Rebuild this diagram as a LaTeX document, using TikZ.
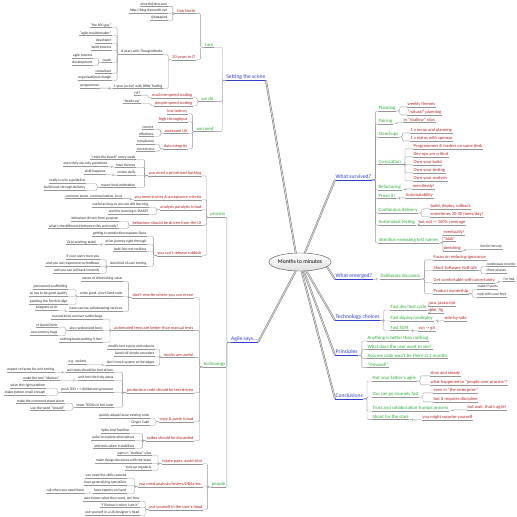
\documentclass[tikz,border=0pt]{standalone}
\usepackage{fontspec}
\setmainfont{Carlito}
\usetikzlibrary{shapes.geometric}
\definecolor{mmblue}{RGB}{45,65,200}
\definecolor{mmgreen}{RGB}{40,170,50}
\definecolor{mmred}{RGB}{175,35,35}
\definecolor{mmleaf}{RGB}{40,40,40}
\definecolor{mmline}{RGB}{150,150,150}
\tikzset{
  ul/.style={append after command={(\tikzlastnode.south west) edge[draw=#1, line width=0.35pt] (\tikzlastnode.south east)}},
  ul/.default=mmline,
  L/.style={anchor=east, inner xsep=0.5pt, inner ysep=0.7pt, ul},
  R/.style={anchor=west, inner xsep=0.5pt, inner ysep=0.7pt, ul},
  topic/.style={font=\fontsize{5.6}{6}\selectfont, text=mmblue, ul=mmblue},
  grn/.style={font=\fontsize{4.8}{5}\selectfont, text=mmgreen},
  rd/.style={font=\fontsize{4.3}{5}\selectfont, text=mmred},
  rdr/.style={font=\fontsize{4.5}{5}\selectfont, text=mmred},
  lf/.style={font=\fontsize{3.7}{4}\selectfont, text=mmleaf},
  lkL/.style={draw=mmline, line width=0.35pt, rounded corners=1.2pt, to path={-- ++(-3.5,0) |- (\tikztotarget)}},
  lkR/.style={draw=mmline, line width=0.35pt, rounded corners=1.2pt, to path={-- ++(3.5,0) |- (\tikztotarget)}},
  trunk/.style={draw=gray!70!black, line width=0.3pt, double=gray!35, double distance=1.1pt}
}
\begin{document}
\begin{tikzpicture}[x=1pt,y=-1pt]
\useasboundingbox (0,0) rectangle (517,517);

% centre
\node[ellipse, draw=gray!60!black, top color=white, bottom color=gray!25, minimum width=58pt, minimum height=18pt, inner sep=0pt, font=\fontsize{5.7}{6}\selectfont] (mm) at (300,262) {Months to minutes};

% Setting the scene
\node[L, topic] (sts) at (266,77) {Setting the scene};
\node[L, grn] (iam) at (214,45) {I am};
\node[L, grn] (wedo) at (214,99) {we do};
\node[L, grn] (wneed) at (214,129) {we need};
\node[L, rd] (dan) at (196,11) {Dan North};
\node[L, lf] (email) at (168,4) {dnorth@drw.com};
\node[L, lf] (blog) at (168,11) {http://blog.dannorth.net};
\node[L, lf] (twt) at (168,18) {@tastapod};
\node[L, rd] (yrs) at (196,57) {20 years in IT};
\node[L, lf] (tw8) at (163,52) {8 years with ThoughtWorks};
\node[L, lf] (g800) at (112,25) {``the 800 guy''};
\node[L, lf] (gtm) at (112,33) {``agile troublemaker''};
\node[L, lf] (gdev) at (112,41) {developer};
\node[L, lf] (gbld) at (112,48) {build process};
\node[L, lf] (gcch) at (112,60) {coach};
\node[L, lf] (cap) at (93,56) {agile process};
\node[L, lf] (cdv) at (93,63) {development};
\node[L, lf] (gcns) at (112,71) {consultant};
\node[L, lf] (gorg) at (112,78) {organisational change};
\node[L, lf] (drw) at (163,86) {1 year (so far) with DRW Trading};
\node[L, lf] (gprg) at (100,86) {programmer};
\node[L, rd] (mst) at (193,95) {machine-speed trading};
\node[L, lf] (hft) at (141,93) {HFT};
\node[L, rd] (pst) at (193,103) {people-speed trading};
\node[L, lf] (hup) at (141,101) {``heads-up''};
\node[L, rd] (lat) at (188,111) {low latency};
\node[L, rd] (thr) at (188,119) {high throughput};
\node[L, rd] (ux) at (188,131) {awesome UX};
\node[L, lf] (cor) at (154,127) {correct};
\node[L, lf] (eff) at (154,134) {effortless};
\node[L, rd] (dint) at (188,146) {data integrity};
\node[L, lf] (cmp) at (155,142) {compliance};
\node[L, lf] (crr) at (155,149) {correctness};

% Agile says... / process
\node[L, topic] (ags) at (258,339) {Agile says...};
\node[L, grn] (proc) at (226,215) {process};
\node[L, rd] (blg) at (202,173) {you need a prioritised backlog};
\node[L, lf] (rst) at (136,157) {``reset the board'' every week};
\node[L, lf] (thm) at (136,165) {have themes};
\node[L, lf] (gdl) at (108,164) {even they are only guidelines};
\node[L, lf] (rvw) at (136,173) {review daily};
\node[L, lf] (sth) at (106,172) {stuff happens};
\node[L, lf] (mac) at (136,185) {macro-level estimation};
\node[L, lf] (rog) at (86,181) {really is only a guideline};
\node[L, lf] (btd) at (86,188) {build trust through delivery};
\node[L, rd] (sto) at (202,197) {you need stories \& acceptance criteria};
\node[L, lf] (cst) at (123,196) {common sense, communication, trust};
\node[L, rd] (ana) at (202,207) {analysis paralysis is bad};
\node[L, lf] (usf) at (149,205) {useful as long as you are still learning};
\node[L, lf] (sma) at (149,212) {and the learning is SMART};
\node[L, rd] (bhv) at (202,223) {behaviour should be driven from the UI};
\node[L, lf] (bdp) at (119,219) {behaviour driven from purpose};
\node[L, lf] (dif) at (119,226) {what's the difference between this and really?};
\node[L, rd] (rub) at (202,253) {you can't release rubbish};
\node[L, lf] (gtp) at (147,234) {getting to production exposes flaws};
\node[L, lf] (drj) at (147,242) {drive journey right through};
\node[L, lf] (wrk) at (97,242) {(it to working state)};
\node[L, lf] (bld) at (147,249) {bold, but not reckless};
\node[L, lf] (bku) at (147,264) {best kind of user testing};
\node[L, lf] (ifu) at (100,257) {if your users trust you};
\node[L, lf] (rsp) at (100,264) {and you are responsive to feedback};
\node[L, lf] (rlb) at (100,271) {and you can roll back instantly};

% technology
\node[L, grn] (tech) at (226,364) {technology};
\node[L, rd] (rwr) at (194,295) {don't rewrite where you can revise};
\node[L, lf] (wav) at (123,279) {waves of diminishing value};
\node[L, lf] (wgs) at (123,294) {write good, short-lived code};
\node[L, lf] (psc) at (68,287) {permanent scaffolding};
\node[L, lf] (sgq) at (68,294) {so has to be good quality};
\node[L, lf] (pfb) at (68,302) {painting the Forth bridge};
\node[L, lf] (nrw) at (123,309) {have narrow, collaborating services};
\node[L, lf] (iui) at (58,308) {integrate at UI};
\node[L, rd] (aut) at (194,328) {automated tests are better than manual tests};
\node[L, lf] (mtu) at (103,317) {manual tests uncover subtle bugs};
\node[L, lf] (rnd) at (103,328) {also randomized tests};
\node[L, lf] (qck) at (58,325) {cf QuickCheck};
\node[L, lf] (ccb) at (58,333) {concurrency bugs};
\node[L, lf] (nbl) at (103,340) {nothing beats putting it live!};
\node[L, rd] (mck) at (194,355) {mocks are useful};
\node[L, lf] (mti) at (155,347) {modify test inputs and outputs};
\node[L, lf] (hrr) at (155,354) {hand-roll simple recorders};
\node[L, lf] (dmk) at (155,363) {don't mock system at the edges};
\node[L, lf] (sck) at (87,362) {e.g. sockets};
\node[L, rd] (prd) at (194,390) {production code should be test-driven};
\node[L, lf] (uts) at (114,370) {unit tests should be test-driven};
\node[L, lf] (erf) at (55,370) {expect re-factor for unit testing};
\node[L, lf] (utr) at (114,378) {unit test the risky areas};
\node[L, lf] (mto) at (60,378) {make the test ``obvious''};
\node[L, lf] (tdd) at (114,390) {push TDD <-> deliberate ignorance};
\node[L, lf] (srp) at (46,386) {solve the right problem};
\node[L, lf] (mss) at (46,393) {make system small enough};
\node[L, lf] (tdo) at (114,405) {leave TODOs in the code};
\node[L, lf] (mcs) at (65,401) {make the comment stand alone};
\node[L, lf] (wsh) at (65,408) {use the word ``should''};
\node[L, rd] (cpy) at (194,419) {copy \& paste is bad};
\node[L, lf] (qar) at (150,416) {quickly adapt/reuse existing code};
\node[L, lf] (gin) at (150,423) {Ginger Cake};
\node[L, rd] (spk) at (194,438) {spikes should be discarded};
\node[L, lf] (sas) at (130,431) {Spike And Stabilise};
\node[L, lf] (sxa) at (135,438) {spike to explore alternatives};
\node[L, lf] (ats) at (135,446) {add tests when it stabilises};

% people
\node[L, grn] (ppl) at (226,484) {people};
\node[L, rd] (rot) at (203,461) {rotate pairs, avoid silos};
\node[L, lf] (pss) at (152,453) {pairs in ``shallow'' silos};
\node[L, lf] (mdd) at (152,461) {make design decisions with the team};
\node[L, lf] (syn) at (152,468) {sync up regularly};
\node[L, rd] (anl) at (203,484) {you need analysts/testers/DBAs/etc.};
\node[L, lf] (skl) at (127,476) {you need the skills covered};
\node[L, lf] (gsp) at (127,483) {have generalizing specialists};
\node[L, lf] (exp) at (127,491) {have experts on hand};
\node[L, lf] (cwn) at (85,491) {call when you need them};
\node[L, rd] (usr) at (203,507) {put yourself in the user's head};
\node[L, lf] (ukw) at (140,499) {user knows what they want, not how};
\node[L, lf] (ikn) at (140,505) {``I'll know it when I see it''};
\node[L, lf] (uxd) at (140,513) {put yourself in a UX designer's head};

% What survived?
\node[R, topic] (srv) at (335,177) {What survived?};
\node[R, grn] (pln) at (378,108) {Planning};
\node[R, rdr] (wth) at (407,104) {weekly themes};
\node[R, rdr] (ntp) at (407,112) {``natural'' planning};
\node[R, grn] (par) at (378,121) {Pairing};
\node[R, rdr] (shs) at (403,120) {in ``shallow'' silos};
\node[R, grn] (sup) at (378,134) {Stand-ups};
\node[R, rdr] (rcp) at (410,130) {1 x recap and planning};
\node[R, rdr] (sws) at (410,138) {1 x status with sponsor};
\node[R, grn] (col) at (378,162) {Co-location};
\node[R, rdr] (ptd) at (413,146) {Programmers \& traders on same desk};
\node[R, rdr] (dvo) at (413,154) {Dev-ops are critical};
\node[R, rdr] (oyb) at (413,162) {Own your build};
\node[R, rdr] (oyt) at (413,170) {Own your testing};
\node[R, rdr] (oya) at (413,178) {Own your analysis};
\node[R, grn] (ref) at (378,187) {Refactoring};
\node[R, rdr] (mer) at (412,186) {mercilessly!};
\node[R, grn] (prv) at (378,196) {Prove it!};
\node[R, rdr] (atm) at (405,195) {Automatability};
\node[R, grn] (cdl) at (378,210) {Continuous delivery};
\node[R, rdr] (bdr) at (430,206) {build, deploy, rollback};
\node[R, rdr] (stm) at (430,214) {sometimes 20-30 times/day!};
\node[R, grn] (atst) at (378,222) {Automated testing};
\node[R, rdr] (cov) at (418,222) {but not -> 100\% coverage};
\node[R, grn] (irt) at (378,240) {Intention-revealing test names};
\node[R, rdr] (evt) at (443,232) {eventually!};
\node[R, rdr] (bla) at (443,239) {``blah''};
\node[R, rdr] (skt) at (443,248) {sketching};
\node[R, lf] (kev) at (480,247) {Kevlin Henney};

% What emerged?
\node[R, topic] (emg) at (335,276) {What emerged?};
\node[R, grn] (dds) at (380,276) {Deliberate discovery};
\node[R, rdr] (fri) at (433,257) {Focus on reducing ignorance};
\node[R, rdr] (ssh) at (433,268) {Short Software Half-Life};
\node[R, lf] (crw) at (486,264) {continuous rewrite};
\node[R, lf] (thp) at (486,271) {three phases};
\node[R, rdr] (gcu) at (433,280) {Get comfortable with uncertainty};
\node[R, lf] (ilo) at (503,279) {I'm lost};
\node[R, rdr] (pow) at (433,291) {Product ownership};
\node[R, lf] (miy) at (477,287) {make it yours};
\node[R, lf] (lwf) at (477,295) {look with your feet};

% Technology choices
\node[R, topic] (tch) at (335,317) {Technology choices};
\node[R, grn] (fdt) at (390,307) {Fast dev/test cycle};
\node[R, rdr] (jjs) at (428,303) {java, javascript};
\node[R, rdr] (rkf) at (428,310) {rake, fig};
\node[R, grn] (fdu) at (390,318) {Fast deploy/undeploy};
\node[R, rdr] (sbs) at (444,318) {side-by-side};
\node[R, grn] (fsc) at (390,328) {Fast SCM};
\node[R, rdr] (svg) at (418,328) {svn -> git};

% Principles
\node[R, topic] (prn) at (335,352) {Principles};
\node[R, grn] (abn) at (367,338) {Anything is better than nothing};
\node[R, grn] (wdu) at (367,347) {What does the user want to see?};
\node[R, grn] (acw) at (367,356) {Assume code won't be there in 2 months};
\node[R, grn] (onw) at (367,365) {``Onward!''};

% Conclusions
\node[R, topic] (ccl) at (335,396) {Conclusions};
\node[R, grn] (nfa) at (372,378) {Not your father's agile};
\node[R, rdr] (ssd) at (430,373) {slow and steady};
\node[R, rdr] (wpp) at (430,382) {what happened to ``people over process''?};
\node[R, grn] (yif) at (372,394) {You can go insanely fast};
\node[R, rdr] (ete) at (433,390) {even in ``the enterprise''};
\node[R, rdr] (rdq) at (433,399) {but it requires discipline};
\node[R, grn] (tct) at (372,408) {Trust and collaboration trumps process};
\node[R, rdr] (bwt) at (467,407) {but wait, that's agile!};
\node[R, grn] (sfs) at (372,417) {Shoot for the stars};
\node[R, rdr] (yms) at (422,417) {you might surprise yourself};

% main branches
\draw[trunk] (mm.115) -- (sts.south east);
\draw[trunk] (mm.245) -- (ags.south east);
\draw[trunk] (mm.62) -- (srv.south west);
\draw[trunk] (mm.350) -- (emg.south west);
\draw[trunk] (mm.305) -- (tch.south west);
\draw[trunk] (mm.292) -- (prn.south west);
\draw[trunk] (mm.280) -- (ccl.south west);

% left connectors
\foreach \a/\b in {sts/iam, sts/wedo, sts/wneed, iam/dan, iam/yrs,
  dan/email, dan/blog, dan/twt, yrs/tw8, yrs/drw,
  tw8/g800, tw8/gtm, tw8/gdev, tw8/gbld, tw8/gcch, tw8/gcns, tw8/gorg,
  gcch/cap, gcch/cdv, drw/gprg,
  wedo/mst, wedo/pst, mst/hft, pst/hup,
  wneed/lat, wneed/thr, wneed/ux, wneed/dint, ux/cor, ux/eff, dint/cmp, dint/crr,
  ags/proc, ags/tech, ags/ppl,
  proc/blg, proc/sto, proc/ana, proc/bhv, proc/rub,
  blg/rst, blg/thm, blg/rvw, blg/mac, thm/gdl, rvw/sth, mac/rog, mac/btd,
  sto/cst, ana/usf, ana/sma, bhv/bdp, bhv/dif,
  rub/gtp, rub/drj, rub/bld, rub/bku, drj/wrk, bku/ifu, bku/rsp, bku/rlb,
  tech/rwr, tech/aut, tech/mck, tech/prd, tech/cpy, tech/spk,
  rwr/wav, rwr/wgs, rwr/nrw, wgs/psc, wgs/sgq, wgs/pfb, nrw/iui,
  aut/mtu, aut/rnd, aut/nbl, rnd/qck, rnd/ccb,
  mck/mti, mck/hrr, mck/dmk, dmk/sck,
  prd/uts, prd/utr, prd/tdd, prd/tdo, uts/erf, utr/mto, tdd/srp, tdd/mss, tdo/mcs, tdo/wsh,
  cpy/qar, cpy/gin, spk/sas, spk/sxa, spk/ats,
  ppl/rot, ppl/anl, ppl/usr, rot/pss, rot/mdd, rot/syn,
  anl/skl, anl/gsp, anl/exp, exp/cwn, usr/ukw, usr/ikn, usr/uxd}
  \draw[lkL] (\a.south west) to (\b.south east);

% right connectors
\foreach \a/\b in {srv/pln, srv/par, srv/sup, srv/col, srv/ref, srv/prv, srv/cdl, srv/atst, srv/irt,
  pln/wth, pln/ntp, par/shs, sup/rcp, sup/sws,
  col/ptd, col/dvo, col/oyb, col/oyt, col/oya, ref/mer, prv/atm,
  cdl/bdr, cdl/stm, atst/cov, irt/evt, irt/bla, irt/skt, skt/kev,
  emg/dds, dds/fri, dds/ssh, dds/gcu, dds/pow, ssh/crw, ssh/thp, gcu/ilo, pow/miy, pow/lwf,
  tch/fdt, tch/fdu, tch/fsc, fdt/jjs, fdt/rkf, fdu/sbs, fsc/svg,
  prn/abn, prn/wdu, prn/acw, prn/onw,
  ccl/nfa, ccl/yif, ccl/tct, ccl/sfs, nfa/ssd, nfa/wpp, yif/ete, yif/rdq, tct/bwt, sfs/yms}
  \draw[lkR] (\a.south east) to (\b.south west);
\end{tikzpicture}
\end{document}
